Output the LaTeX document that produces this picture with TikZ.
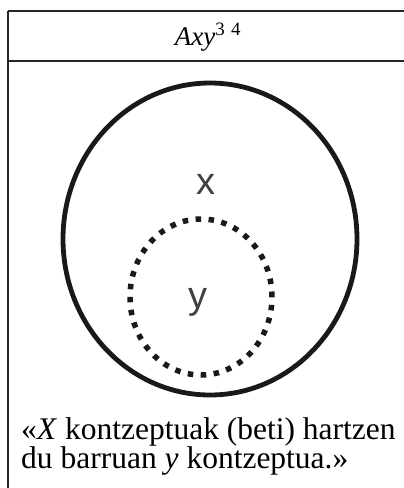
\documentclass[tikz,border=0pt]{standalone}
\usepackage{fontspec}
\setmainfont{Liberation Serif}
\newfontfamily\labelfont{Liberation Sans}
\usetikzlibrary{shapes.geometric}
\tikzset{
  tablerule/.style={line width=1.5pt, black!85},
  outerring/.style={
    ellipse, draw=black!90, line width=4.8pt,
    minimum width=294pt, minimum height=312pt, inner sep=0pt
  },
  innerring/.style={
    ellipse, draw=black!90, line width=5.5pt,
    dash pattern=on 5.5pt off 7.5pt,
    minimum width=142pt, minimum height=156pt, inner sep=0pt
  },
  letter/.style={font=\labelfont\fontsize{38}{38}\selectfont,
                 text=black!75, inner sep=0pt},
  headtext/.style={font=\fontsize{27}{27}\selectfont, inner sep=0pt},
  bodytext/.style={font=\fontsize{31.5}{27.5}\selectfont,
                   align=left, inner sep=0pt}
}
\begin{document}
\begin{tikzpicture}[x=1pt, y=-1pt]
  \useasboundingbox (0,0) rectangle (404,488);

  % table frame
  \coordinate (tl) at (8,11);
  \coordinate (tr) at (404,11);
  \coordinate (ml) at (8,61);
  \coordinate (mr) at (404,61);
  \coordinate (bl) at (8,488);
  \draw[tablerule] (tl) -- (tr);
  \draw[tablerule] (ml) -- (mr);
  \draw[tablerule] (tl) -- (bl);

  \node[headtext, anchor=base] (head) at (208,45)
        {\textit{Axy}\textsuperscript{3\,\,4}};

  % the two concepts
  \node[outerring] (outer) at (210,239) {};
  \node[innerring] (inner) at (201,297) {};
  \node[letter] (labx) at (206,184) {x};
  \node[letter] (laby) at (198,302) {y};

  \node[bodytext, anchor=north west] (caption) at (21,417)
        {«\textit{X} kontzeptuak (beti) hartzen\\
         du barruan \textit{y} kontzeptua.»};

\end{tikzpicture}
\end{document}
